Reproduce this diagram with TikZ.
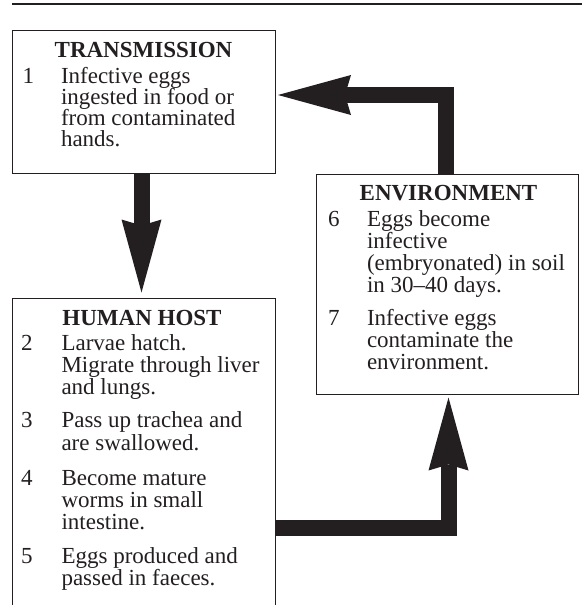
\documentclass[tikz,border=0pt]{standalone}
\usepackage{fontspec}
\setmainfont{Liberation Serif}
\usetikzlibrary{arrows.meta,calc}
\definecolor{ink}{RGB}{35,31,32}
\tikzset{
  box/.style={draw=ink, line width=1pt, rectangle, inner sep=0pt, outer sep=0pt},
  txt/.style={anchor=base west, inner sep=0pt, outer sep=0pt, text=ink, font=\fontsize{23}{22}\selectfont},
  ttl/.style={anchor=base, inner sep=0pt, outer sep=0pt, text=ink, font=\fontsize{23}{22}\selectfont\bfseries},
  bigarrow/.style={draw=ink, line width=16pt, line join=miter,
    -{Stealth[length=73pt, width=40pt, inset=6pt, line width=0pt, fill=ink, color=ink]}},
}
\begin{document}
\begin{tikzpicture}[x=1pt, y=-1pt]
\useasboundingbox (0,0) rectangle (582,605);
\clip (0,0) rectangle (582,605);
% top rule
\coordinate (r1) at (12,4);
\coordinate (r2) at (582,4);
\draw[draw=ink, line width=1.3pt] (r1) -- (r2);
% boxes
\node[box, minimum width=263pt, minimum height=143pt] (trans) at (143.5,101.5) {};
\node[box, minimum width=261.5pt, minimum height=220.5pt] (env) at (447.25,284.25) {};
\node[box, minimum width=263.5pt, minimum height=326.5pt] (human) at (143.75,461.75) {};
% TRANSMISSION
\node[ttl] (t0) at (143.5,57.7) {TRANSMISSION};
\node[txt] (t1n) at (22.5,83) {1};
\node[txt] (t1a) at (61,83) {Infective eggs};
\node[txt] (t1b) at (61,104) {ingested in food or};
\node[txt] (t1c) at (61,125) {from contaminated};
\node[txt] (t1d) at (61,146) {hands.};
% HUMAN HOST
\node[ttl] (h0) at (142,325) {HUMAN HOST};
\node[txt] (h2n) at (21,350) {2};
\node[txt] (h2a) at (61.5,350) {Larvae hatch.};
\node[txt] (h2b) at (61.5,372) {Migrate through liver};
\node[txt] (h2c) at (61.5,394) {and lungs.};
\node[txt] (h3n) at (21,427) {3};
\node[txt] (h3a) at (61.5,427) {Pass up trachea and};
\node[txt] (h3b) at (61.5,450) {are swallowed.};
\node[txt] (h4n) at (21,485) {4};
\node[txt] (h4a) at (61.5,485) {Become mature};
\node[txt] (h4b) at (61.5,507) {worms in small};
\node[txt] (h4c) at (61.5,529) {intestine.};
\node[txt] (h5n) at (21,563) {5};
\node[txt] (h5a) at (61.5,563) {Eggs produced and};
\node[txt] (h5b) at (61.5,585) {passed in faeces.};
% ENVIRONMENT
\node[ttl] (e0) at (448.5,200) {ENVIRONMENT};
\node[txt] (e6n) at (328,226) {6};
\node[txt] (e6a) at (367,226) {Eggs become};
\node[txt] (e6b) at (367,248) {infective};
\node[txt] (e6c) at (367,270) {(embryonated) in soil};
\node[txt] (e6d) at (367,292) {in 30--40 days.};
\node[txt] (e7n) at (328,325) {7};
\node[txt] (e7a) at (367,325) {Infective eggs};
\node[txt] (e7b) at (367,347) {contaminate the};
\node[txt] (e7c) at (367,369) {environment.};
% arrows
\draw[bigarrow, shorten >=6pt] ([xshift=-2pt]trans.south) -- ([xshift=-2pt]trans.south |- human.north);
\draw[bigarrow, shorten >=3pt] ([xshift=-1.25pt]env.north) |- ([yshift=6.5pt]trans.east);
\draw[bigarrow, shorten >=3pt] ([yshift=-65.75pt]human.east) -| ([xshift=1.25pt]env.south);
\end{tikzpicture}
\end{document}
